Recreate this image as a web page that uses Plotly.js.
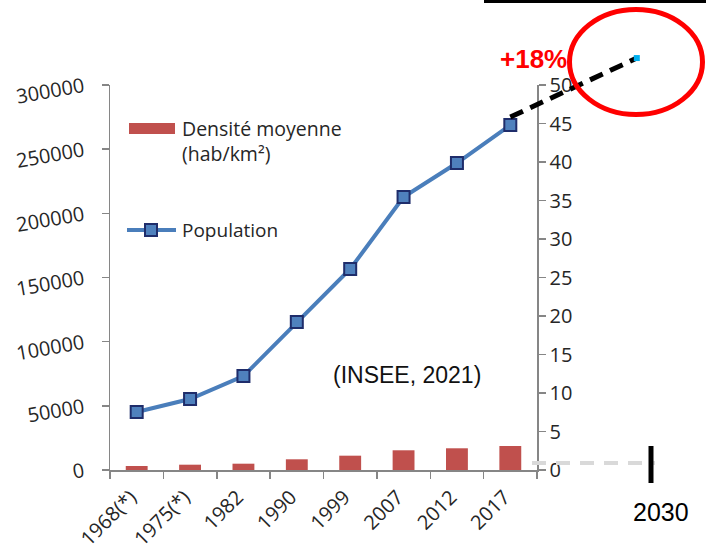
<!DOCTYPE html>
<html>
<head>
<meta charset="utf-8">
<script src="https://cdn.plot.ly/plotly-3.0.1.min.js"></script>
<style>
  html, body { margin: 0; padding: 0; background: #ffffff; }
  #chart { width: 706px; height: 554px; }
</style>
</head>
<body>
<div id="chart"></div>
<script>
// ---- data ----
const categories = ['1968(*)', '1975(*)', '1982', '1990', '1999', '2007', '2012', '2017'];
const population = [45200, 55300, 73200, 115300, 156600, 212700, 239200, 268800];
const density = [0.52, 0.69, 0.82, 1.39, 1.86, 2.56, 2.82, 3.12];
const projectionX = [7, 9.37];          // from 2017 towards 2030 (category index units)
const projectionY = [275000, 321000];   // +18 %
const leftTicks = [0, 50000, 100000, 150000, 200000, 250000, 300000];
const rightTicks = [0, 5, 10, 15, 20, 25, 30, 35, 40, 45, 50];

// ---- geometry ----
const W = 706, H = 554;
const mL = 110, mR = 0, mT = 0, mB = 84;
const plotW = W - mL - mR;      // 596
const plotH = H - mT - mB;      // 470
const mainW = 427, mainH = 385; // main plot area in px
const catW = mainW / categories.length;
const yMax = 300000;

const tickFont = { family: 'Open Sans, sans-serif', size: 20, color: '#262626' };
const axisGrey = '#868686';

const traces = [
  {
    type: 'bar', x: categories, y: density, xaxis: 'x', yaxis: 'y2',
    marker: { color: '#c0504d' }, width: 0.41, showlegend: false, hoverinfo: 'skip'
  },
  {
    type: 'scatter', mode: 'lines+markers', x: categories, y: population, xaxis: 'x', yaxis: 'y',
    line: { color: '#4a7ebb', width: 4 },
    marker: { symbol: 'square', size: 12, color: '#4f81bd', line: { color: '#1f2d6b', width: 2 } },
    showlegend: false, cliponaxis: false
  },
  {
    type: 'scatter', mode: 'lines', x: projectionX, y: projectionY, xaxis: 'x2', yaxis: 'y3',
    line: { color: '#000000', width: 5, dash: '14px,8px' }, showlegend: false
  },
  {
    type: 'scatter', mode: 'markers', x: [projectionX[1]], y: [projectionY[1]], xaxis: 'x2', yaxis: 'y3',
    marker: { symbol: 'square', size: 6, color: '#00b0f0' }, showlegend: false
  }
];

const px2x = (px) => (px - mL) / plotW;
const px2y = (py) => (plotH - py) / plotH;

const layout = {
  width: W, height: H,
  margin: { l: mL, r: mR, t: mT, b: mB, pad: 0 },
  paper_bgcolor: '#ffffff', plot_bgcolor: 'rgba(0,0,0,0)',
  showlegend: false,
  bargap: 0.59,
  xaxis: {
    type: 'category', domain: [0, mainW / plotW], range: [-0.5, categories.length - 0.5],
    anchor: 'y', showline: true, linecolor: axisGrey, linewidth: 1.5,
    ticks: 'outside', tickson: 'boundaries', ticklen: 7, tickcolor: axisGrey, tickwidth: 1.5,
    tickangle: -45, tickfont: tickFont, ticklabelstandoff: 6, ticklabelshift: -6,
    showgrid: false, zeroline: false, fixedrange: true
  },
  yaxis: {
    domain: [0, mainH / plotH], range: [0, yMax], anchor: 'x',
    tickvals: leftTicks, ticktext: leftTicks.map(String),
    showline: true, linecolor: axisGrey, linewidth: 1.5,
    ticks: 'outside', ticklen: 7, tickcolor: axisGrey, tickwidth: 1.5,
    tickangle: -10, tickfont: tickFont, ticklabelstandoff: 14,
    showgrid: false, zeroline: false, fixedrange: true
  },
  yaxis2: {
    overlaying: 'y', side: 'right', anchor: 'x', range: [0, 50],
    tickvals: rightTicks, showline: true, linecolor: axisGrey, linewidth: 1.5,
    ticks: 'outside', ticklen: 7, tickcolor: axisGrey, tickwidth: 1.5,
    tickfont: tickFont, showgrid: false, zeroline: false, fixedrange: true
  },
  xaxis2: {
    domain: [0, 1], range: [-0.5, -0.5 + plotW / catW], anchor: 'y3', visible: false, fixedrange: true
  },
  yaxis3: {
    domain: [0, 1], range: [0, yMax * plotH / mainH], anchor: 'x2', visible: false, fixedrange: true
  },
  shapes: [
    // legend swatches
    { type: 'rect', xref: 'paper', yref: 'paper', x0: px2x(129), x1: px2x(175), y0: px2y(134), y1: px2y(123),
      fillcolor: '#c0504d', line: { width: 0 } },
    { type: 'line', xref: 'paper', yref: 'paper', x0: px2x(127), x1: px2x(176), y0: px2y(230), y1: px2y(230),
      line: { color: '#4a7ebb', width: 4 } },
    { type: 'rect', xref: 'paper', yref: 'paper', x0: px2x(145), x1: px2x(157), y0: px2y(236), y1: px2y(224),
      fillcolor: '#4f81bd', line: { color: '#1f2d6b', width: 2 } },
    // top black rule
    { type: 'line', xref: 'paper', yref: 'paper', x0: px2x(484), x1: 1, y0: px2y(1.5), y1: px2y(1.5),
      line: { color: '#000000', width: 3 } },
    // grey dashed baseline to 2030
    { type: 'line', xref: 'paper', yref: 'paper', x0: px2x(532), x1: px2x(655), y0: px2y(463), y1: px2y(463),
      line: { color: '#d9d9d9', width: 4, dash: '14px,10px' } },
    // 2030 tick
    { type: 'line', xref: 'paper', yref: 'paper', x0: px2x(651), x1: px2x(651), y0: px2y(483), y1: px2y(446),
      line: { color: '#000000', width: 5 } },
    // red ellipse
    { type: 'circle', xref: 'paper', yref: 'paper', x0: px2x(569.5), x1: px2x(702.5), y0: px2y(114.5), y1: px2y(9.5),
      line: { color: '#ff0000', width: 5 }, fillcolor: 'rgba(0,0,0,0)', layer: 'above' }
  ],
  annotations: [
    { xref: 'paper', yref: 'paper', x: px2x(180), y: px2y(141.5), xanchor: 'left', yanchor: 'middle', align: 'left',
      text: 'Densité moyenne<br>(hab/km²)', showarrow: false,
      font: { family: 'Open Sans, sans-serif', size: 19.5, color: '#262626' } },
    { xref: 'paper', yref: 'paper', x: px2x(180), y: px2y(230), xanchor: 'left', yanchor: 'middle',
      text: 'Population', showarrow: false,
      font: { family: 'Open Sans, sans-serif', size: 19, color: '#262626' } },
    { xref: 'paper', yref: 'paper', x: px2x(407), y: px2y(375), xanchor: 'center', yanchor: 'middle',
      text: '(INSEE, 2021)', showarrow: false,
      font: { family: 'Liberation Sans, Arial, sans-serif', size: 23, color: '#111111' } },
    { xref: 'paper', yref: 'paper', x: px2x(533), y: px2y(59), xanchor: 'center', yanchor: 'middle',
      text: '<b>+18%</b>', showarrow: false,
      font: { family: 'Liberation Sans, Arial, sans-serif', size: 26, color: '#ff0000' } },
    { xref: 'paper', yref: 'paper', x: px2x(661), y: px2y(512), xanchor: 'center', yanchor: 'middle',
      text: '2030', showarrow: false,
      font: { family: 'Liberation Sans, Arial, sans-serif', size: 25, color: '#000000' } }
  ]
};

Plotly.newPlot('chart', traces, layout, { staticPlot: true, displayModeBar: false });
</script>
</body>
</html>
